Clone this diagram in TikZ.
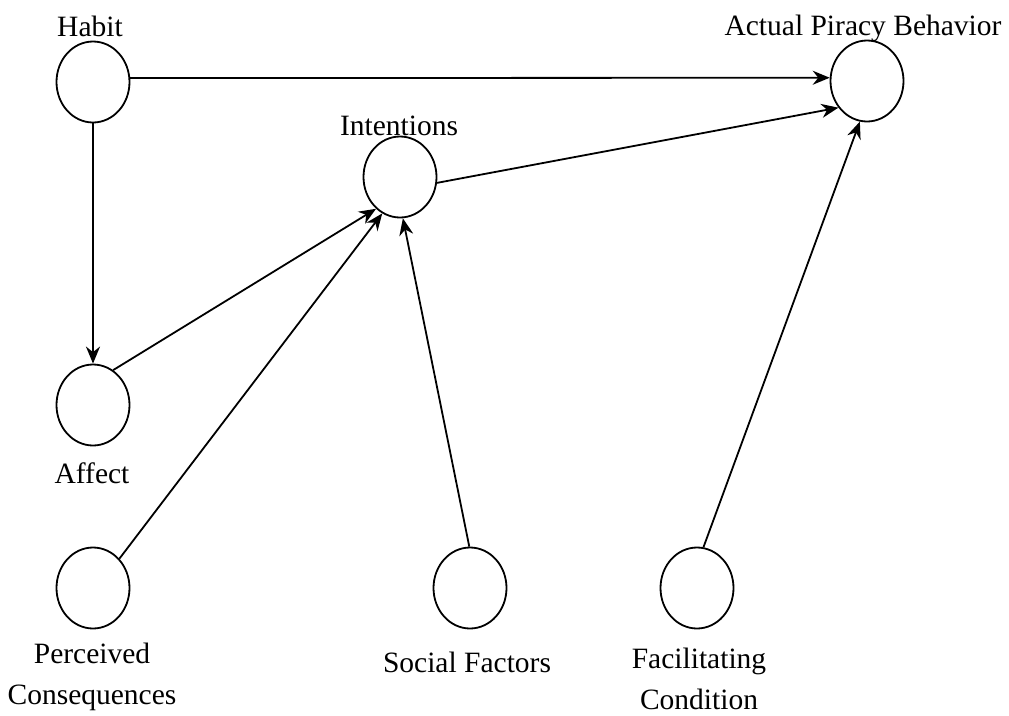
\documentclass[tikz,border=0pt]{standalone}
\usepackage{fontspec}
\setmainfont{Liberation Serif}
\usetikzlibrary{arrows.meta,shapes.geometric}

\begin{document}
\begin{tikzpicture}[x=1pt,y=-1pt,
    construct/.style={draw,ellipse,line width=1.8pt,minimum width=73pt,minimum height=81pt,inner sep=0pt},
    lbl/.style={anchor=base,inner sep=0pt,align=center,font=\fontsize{29.5}{41}\selectfont},
    link/.style={line width=1.8pt,-{Stealth[length=17pt,width=14pt]}}]
    \useasboundingbox (0,0) rectangle (1009,715);
    % constructs
    \node[construct] (habit) at (93,82) {};
    \node[construct] (actual) at (867,81) {};
    \node[construct] (intent) at (400,177) {};
    \node[construct] (affect) at (93,405) {};
    \node[construct] (percv) at (93,588) {};
    \node[construct] (social) at (470,588) {};
    \node[construct] (facil) at (697,588) {};
    % labels (base = last line)
    \node[lbl] (habitlbl) at (90,36) {Habit};
    \node[lbl] (actuallbl) at (863,35) {Actual Piracy Behavior};
    \node[lbl] (intentlbl) at (399,135) {Intentions};
    \node[lbl] (affectlbl) at (92,483) {Affect};
    \node[lbl] (percvlbl) at (92,704) {Perceived\\Consequences};
    \node[lbl] (sociallbl) at (467,672) {Social Factors};
    \node[lbl] (facillbl) at (699,709) {Facilitating\\Condition};
    % paths
    \draw[link] (habit.6) -- (actual.175);
    \draw[link] (habit.270) -- (affect.90);
    \draw[link] (intent.351) -- (actual.223);
    \draw[link] (affect.60) -- (intent.233);
    \draw[link] (percv.48) -- (intent.244);
    \draw[link] (social.91) -- (intent.274);
    \draw[link] (facil.81) -- (actual.260);
\end{tikzpicture}
\end{document}
